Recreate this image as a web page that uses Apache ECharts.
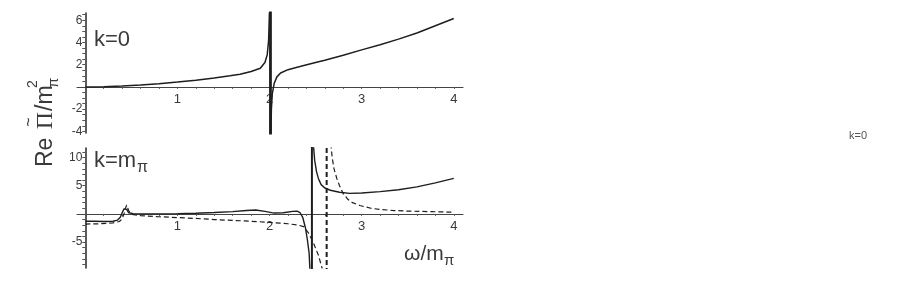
<!DOCTYPE html>
<html>
<head>
<meta charset="utf-8">
<style>html,body{margin:0;padding:0;background:#fff;}#c{width:922px;height:284px;}</style>
<script src="https://cdn.jsdelivr.net/npm/echarts@6/dist/echarts.min.js"></script>
</head>
<body>
<div id="c"></div>
<script>
// ---- tick labels / tick positions ----
var xTickValues = [0,0.2,0.4,0.6,0.8,1,1.2,1.4,1.6,1.8,2,2.2,2.4,2.6,2.8,3,3.2,3.4,3.6,3.8,4];
var xLabelValues = [1,2,3,4];
var topYLabels = [-4,-2,2,4,6];
var topYTicks = [-4,-3.5,-3,-2.5,-2,-1.5,-1,-0.5,0.5,1,1.5,2,2.5,3,3.5,4,4.5,5,5.5,6,6.5];
var botYLabels = [-5,5,10];
var botYTicks = [-9,-8,-7,-6,-5,-4,-3,-2,-1,1,2,3,4,5,6,7,8,9,10,11];

// ---- k = 0 panel (omega/m_pi, Re Pi/m_pi^2) ----
var topBranchLeft = [[0,0],[0.2,0.02],[0.4,0.07],[0.6,0.16],[0.8,0.28],[1.0,0.43],[1.2,0.6],[1.4,0.8],[1.57,1.0],[1.68,1.14],[1.8,1.38],[1.9,1.68],[1.95,2.2],[1.975,2.9],[1.99,4.2],[2.0,7.0]];
var topBranchRight = [[2.015,-4.5],[2.02,-2.0],[2.03,-0.6],[2.05,0.3],[2.08,0.9],[2.12,1.25],[2.2,1.55],[2.33,1.83],[2.5,2.2],[2.6,2.4],[2.8,2.85],[3.0,3.33],[3.2,3.8],[3.4,4.3],[3.6,4.85],[3.8,5.5],[4.0,6.15]];
var topPole = [[2.01,-4.5],[2.01,7.0]];

// ---- k = m_pi panel ----
var botSolidLeft = [[0,-1.3],[0.1,-1.3],[0.2,-1.35],[0.3,-1.3],[0.35,-1.1],[0.38,-0.6],[0.4,0.2],[0.42,0.9],[0.43,1.1],[0.45,0.8],[0.47,0.2],[0.52,0.05],[0.6,0.0],[0.8,0.0],[1.0,0.05],[1.2,0.12],[1.4,0.25],[1.6,0.4],[1.75,0.6],[1.85,0.7],[1.95,0.45],[2.05,0.15],[2.15,0.2],[2.25,0.45],[2.3,0.5],[2.33,0.25],[2.36,-0.6],[2.39,-2.5],[2.41,-4.5],[2.43,-7],[2.44,-10.5]];
var botSolidRight = [[2.475,12.5],[2.49,9.5],[2.51,7.5],[2.53,6.3],[2.56,5.2],[2.6,4.6],[2.66,4.2],[2.76,3.85],[2.87,3.65],[3.0,3.7],[3.2,3.95],[3.4,4.3],[3.6,4.8],[3.8,5.5],[4.0,6.3]];
var botSolidPole = [[2.46,-10.5],[2.46,12.5]];
var botDashedLeft = [[0,-1.8],[0.15,-1.75],[0.3,-1.6],[0.37,-1.35],[0.4,-0.9],[0.42,0],[0.44,1.2],[0.45,1.6],[0.47,0.6],[0.5,-0.05],[0.6,-0.3],[0.8,-0.5],[1.0,-0.65],[1.2,-0.8],[1.4,-1.0],[1.6,-1.15],[1.8,-1.3],[2.0,-1.5],[2.2,-1.75],[2.3,-1.95],[2.37,-2.25],[2.42,-3.3],[2.47,-4.9],[2.53,-7.3],[2.57,-9.6],[2.58,-10.5]];
var botDashedRight = [[2.665,12.5],[2.68,10],[2.7,8],[2.73,6.3],[2.76,5.0],[2.8,3.6],[2.85,2.6],[2.9,2.0],[2.98,1.5],[3.1,1.0],[3.2,0.8],[3.35,0.6],[3.5,0.5],[3.75,0.4],[4.0,0.3]];
var botDashedPole = [[2.62,-10.5],[2.62,12.5]];

var FONT = 'Liberation Sans, Arial, sans-serif';
var TXT = '#3a3a3a';
var LINE = '#1e1e1e';

function xAxisCfg(gi, off) {
  return {
    type: 'value', gridIndex: gi, min: -0.09, max: 4.1, position: 'bottom', offset: off,
    axisLine: { onZero: false, lineStyle: { color: '#444', width: 1 } },
    axisTick: { show: true, customValues: xTickValues, length: 2, inside: false, lineStyle: { color: '#555' } },
    axisLabel: { customValues: xLabelValues, color: TXT, fontSize: 13, fontFamily: FONT, margin: 6 },
    splitLine: { show: false }
  };
}
function yAxisCfg(gi, mn, mx, ticks, labels) {
  return {
    type: 'value', gridIndex: gi, min: mn, max: mx, position: 'left', offset: -8.3,
    axisLine: { onZero: false, lineStyle: { color: '#333', width: 1.6 } },
    axisTick: { show: true, customValues: ticks, length: 3, lineStyle: { color: '#555' } },
    axisLabel: { customValues: labels, color: TXT, fontSize: 12, fontFamily: FONT, margin: 3 },
    splitLine: { show: false }
  };
}
function line(data, xi, width, type) {
  return {
    type: 'line', xAxisIndex: xi, yAxisIndex: xi, data: data, showSymbol: false, symbol: 'none',
    smooth: false, animation: false, silent: true, clip: true,
    lineStyle: { color: LINE, width: width, type: type || 'solid' }
  };
}

var chart = echarts.init(document.getElementById('c'), null, { renderer: 'canvas' });
chart.setOption({
  animation: false,
  backgroundColor: '#fff',
  grid: [
    { left: 77, width: 386, top: 13, height: 120 },
    { left: 77, width: 386, top: 148, height: 120 }
  ],
  xAxis: [xAxisCfg(0, -46.1), xAxisCfg(1, -54.1)],
  yAxis: [
    yAxisCfg(0, -4.15, 6.65, topYTicks, topYLabels),
    yAxisCfg(1, -9.6, 11.7, botYTicks, botYLabels)
  ],
  series: [
    line(topBranchLeft, 0, 1.5),
    line(topBranchRight, 0, 1.5),
    line(topPole, 0, 2.8),
    line(botSolidLeft, 1, 1.4),
    line(botSolidRight, 1, 1.4),
    line(botSolidPole, 1, 2),
    line(botDashedLeft, 1, 1.2, [5, 3]),
    line(botDashedRight, 1, 1.2, [5, 3]),
    line(botDashedPole, 1, 2, [5, 3])
  ],
  graphic: [
    { type: 'text', left: 94, top: 29, style: { text: 'k=0', fontSize: 22, fontFamily: FONT, fill: TXT } },
    { type: 'text', left: 94, top: 150, style: { text: 'k=m', fontSize: 22, fontFamily: FONT, fill: TXT } },
    { type: 'text', left: 137, top: 160, style: { text: 'π', fontSize: 16, fontFamily: FONT, fill: TXT } },
    { type: 'text', left: 404, top: 244, style: { text: 'ω/m', fontSize: 21, fontFamily: FONT, fill: TXT } },
    { type: 'text', left: 444, top: 253, style: { text: 'π', fontSize: 15, fontFamily: FONT, fill: TXT } },
    { type: 'text', left: 849, top: 130, style: { text: 'k=0', fontSize: 11, fontFamily: FONT, fill: '#555' } },
    {
      type: 'group', x: 46, y: 167, rotation: Math.PI / 2,
      children: [
        { type: 'text', x: 0, y: 0, style: { text: '{a|Re }{b|Π}{a|/m}', verticalAlign: 'middle', align: 'left', fill: TXT,
            rich: { a: { fontSize: 23, fontFamily: FONT, fill: TXT }, b: { fontSize: 24, fontFamily: 'Liberation Serif, serif', fill: TXT, padding: [0, 1, 0, 2] } } } },
        { type: 'text', x: 45, y: -16, style: { text: '~', fontSize: 16, fontFamily: FONT, fill: TXT, align: 'center', verticalAlign: 'middle' } },
        { type: 'text', x: 79, y: -13, style: { text: '2', fontSize: 14, fontFamily: FONT, fill: TXT, verticalAlign: 'middle' } },
        { type: 'text', x: 79, y: 8, style: { text: 'π', fontSize: 15, fontFamily: FONT, fill: TXT, verticalAlign: 'middle' } }
      ]
    }
  ]
});
</script>
</body>
</html>
